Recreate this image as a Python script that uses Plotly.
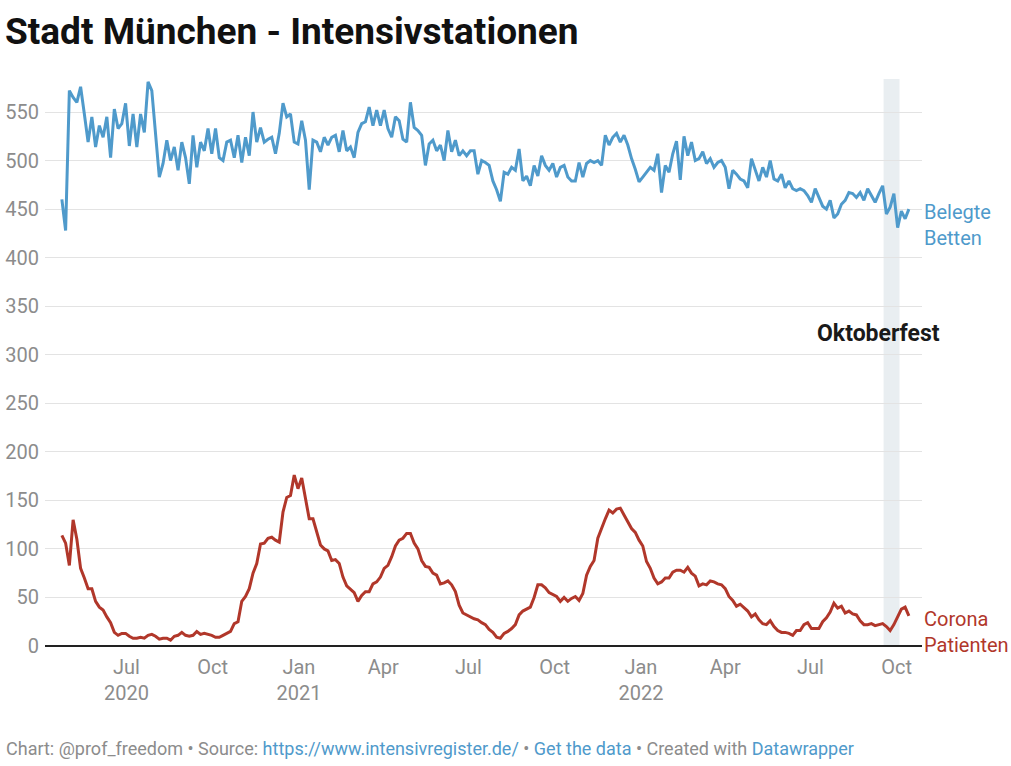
import pandas as pd
import plotly.graph_objects as go

# ---------------- data (one value every 4 days) ----------------
start_date = "2020-04-23"
step_days = 4

belegte_betten = [
    460, 428, 572, 565, 560, 576, 548, 519, 545, 514, 536, 524, 545, 503, 553, 533, 538, 559, 515, 548,
    514, 548, 529, 581, 572, 524, 483, 497, 521, 500, 514, 490, 519, 503, 476, 526, 493, 519, 510, 533,
    507, 533, 503, 500, 519, 521, 503, 526, 498, 524, 505, 550, 519, 534, 519, 522, 524, 507, 528, 559,
    545, 548, 519, 517, 541, 521, 470, 521, 519, 509, 524, 516, 524, 526, 509, 531, 510, 514, 503, 529,
    538, 540, 555, 536, 552, 536, 552, 533, 524, 545, 541, 522, 519, 560, 534, 531, 526, 495, 517, 521,
    510, 516, 500, 531, 509, 521, 505, 510, 505, 510, 510, 486, 500, 498, 495, 479, 470, 458, 488, 486,
    493, 490, 512, 479, 484, 474, 495, 484, 505, 495, 490, 497, 483, 493, 495, 483, 479, 479, 498, 483,
    497, 500, 498, 500, 495, 526, 516, 524, 528, 519, 526, 516, 502, 491, 478, 483, 488, 493, 490, 507,
    467, 495, 488, 507, 520, 480, 525, 505, 519, 500, 502, 509, 497, 502, 493, 498, 500, 493, 471, 490,
    486, 481, 479, 472, 502, 490, 479, 493, 483, 500, 481, 479, 486, 472, 479, 471, 469, 471, 469, 464,
    457, 471, 462, 453, 450, 459, 441, 445, 455, 459, 467, 466, 462, 467, 459, 471, 464, 457, 466, 474,
    445, 452, 466, 431, 448, 440, 450,
]

corona_patienten = [
    114, 106, 83, 130, 110, 80, 70, 59, 59, 46, 40, 37, 30, 24, 14, 11, 13, 13, 10, 8,
    8, 9, 8, 11, 12, 10, 7, 8, 8, 6, 10, 11, 14, 11, 10, 11, 15, 12, 13, 12,
    11, 9, 9, 11, 13, 15, 23, 25, 46, 51, 59, 75, 85, 105, 106, 111, 112, 109, 107, 138,
    153, 155, 176, 162, 173, 153, 131, 131, 116, 104, 100, 98, 88, 89, 85, 71, 62, 58, 55, 46,
    52, 56, 56, 64, 66, 71, 80, 83, 92, 103, 109, 111, 116, 116, 106, 100, 88, 82, 81, 75,
    73, 64, 65, 67, 63, 56, 42, 34, 32, 30, 28, 27, 24, 22, 17, 14, 9, 8, 13, 15,
    18, 22, 32, 36, 38, 40, 50, 63, 63, 60, 55, 53, 51, 46, 50, 46, 49, 51, 47, 54,
    73, 82, 88, 111, 122, 131, 140, 137, 141, 142, 135, 128, 121, 117, 109, 103, 87, 80, 70, 64,
    66, 70, 70, 76, 78, 78, 76, 81, 75, 72, 62, 64, 63, 67, 66, 64, 63, 59, 51, 47,
    41, 43, 39, 36, 30, 33, 27, 23, 22, 26, 20, 16, 14, 14, 13, 11, 16, 16, 22, 24,
    18, 18, 18, 25, 29, 35, 44, 39, 41, 34, 36, 33, 32, 26, 22, 22, 23, 21, 22, 23,
    20, 16, 22, 30, 38, 40, 31,
]

x_tick_dates = ["2020-07-01", "2020-10-01", "2021-01-01", "2021-04-01", "2021-07-01",
                "2021-10-01", "2022-01-01", "2022-04-01", "2022-07-01", "2022-10-01"]
x_tick_labels = ["Jul<br>2020", "Oct", "Jan<br>2021", "Apr", "Jul",
                 "Oct", "Jan<br>2022", "Apr", "Jul", "Oct"]
y_tick_values = [0, 50, 100, 150, 200, 250, 300, 350, 400, 450, 500, 550]

oktoberfest_start = "2022-09-17"
oktoberfest_end = "2022-10-04"

# ---------------- figure ----------------
dates = pd.date_range(start_date, periods=len(belegte_betten), freq=f"{step_days}D")

W, H = 1011, 766
BLUE = "#4f9acb"
RED = "#b1372a"
GREY = "#8c8c8c"
FONT = "Roboto"

PLOT_TOP, PLOT_BOTTOM = 79, 646
PLOT_LEFT, PLOT_RIGHT = 45, 922

fig = go.Figure()
fig.add_trace(go.Scatter(x=dates, y=belegte_betten, mode="lines",
                         line=dict(color=BLUE, width=3), name="Belegte Betten",
                         hoverinfo="skip"))
fig.add_trace(go.Scatter(x=dates, y=corona_patienten, mode="lines",
                         line=dict(color=RED, width=3), name="Corona Patienten",
                         hoverinfo="skip"))

fig.add_shape(type="rect", xref="x", yref="y domain",
              x0=oktoberfest_start, x1=oktoberfest_end, y0=0, y1=1,
              fillcolor="#e9eef1", line=dict(width=0), layer="below")


def px(x):
    return x / W


def top_anno(text, x, y, size, color, xanchor="left", align="left"):
    # anchored to the top edge, offset in pixels
    return dict(text=text, x=px(x), y=1, yshift=-y, xanchor=xanchor, yanchor="middle",
                align=align, font=dict(size=size, color=color, family=FONT),
                xref="paper", yref="paper", showarrow=False)


annotations = [
    top_anno("<b>Stadt München - Intensivstationen</b>", 3, 31, 37, "#111111"),
    top_anno("Belegte<br>Betten", 922, 225, 20, BLUE),
    top_anno("Corona<br>Patienten", 922, 632, 20, RED),
    top_anno("<b>Oktoberfest</b>", 878, 333, 23, "#1a1a1a", xanchor="center", align="center"),
    top_anno(("Chart: @prof_freedom • Source: "
              f"<span style='color:{BLUE}'>https://www.intensivregister.de/</span> • "
              f"<span style='color:{BLUE}'>Get the data</span> • Created with "
              f"<span style='color:{BLUE}'>Datawrapper</span>"), 4, 748, 18, GREY),
]

fig.update_layout(
    width=W, height=H, autosize=False,
    margin=dict(l=0, r=0, t=0, b=0, pad=0),
    paper_bgcolor="white", plot_bgcolor="white",
    showlegend=False,
    font=dict(family=FONT, color=GREY, size=17),
    annotations=annotations,
    xaxis=dict(
        domain=[PLOT_LEFT / W, PLOT_RIGHT / W],
        range=["2020-04-05", "2022-10-28"],
        tickvals=x_tick_dates, ticktext=x_tick_labels,
        showgrid=False, zeroline=False, showline=False,
        ticks="", ticklabelstandoff=7, automargin=False,
        tickfont=dict(size=20, color=GREY, family=FONT),
    ),
    yaxis=dict(
        domain=[1 - PLOT_BOTTOM / H, 1 - PLOT_TOP / H],
        range=[0, 584],
        tickvals=y_tick_values,
        showgrid=True, gridcolor="#e3e3e3", gridwidth=1,
        zeroline=True, zerolinecolor="#222222", zerolinewidth=1.5,
        showline=False, ticks="", ticklabelstandoff=5, automargin=False,
        tickfont=dict(size=20, color=GREY, family=FONT),
    ),
)

fig.write_html("out.html",
               config={"responsive": False, "displayModeBar": False, "staticPlot": True},
               post_script="document.body.style.margin='0';")
